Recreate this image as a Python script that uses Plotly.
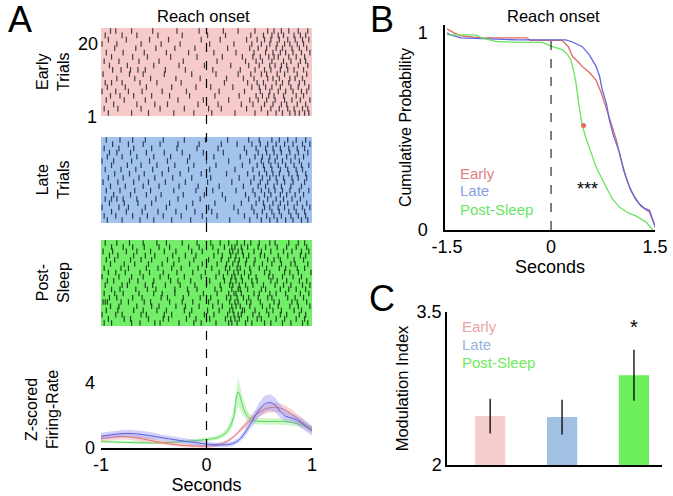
import numpy as np
import plotly.graph_objects as go

W, H = 673, 496

# ---------------- DATA ----------------
# Panel A raster: spike times (s) per trial, trial 1 (bottom) .. trial 20 (top)
early_spikes = [
    [-0.93,-0.71,-0.55,-0.31,-0.12,0.05,0.27,0.46,0.58,0.66,0.72,0.79,0.84,0.88,0.93,0.97],
    [-0.97,-0.84,-0.62,-0.44,-0.21,0.02,0.14,0.38,0.52,0.61,0.69,0.77,0.83,0.91,0.96],
    [-0.88,-0.66,-0.49,-0.37,-0.08,0.11,0.33,0.44,0.55,0.63,0.71,0.76,0.86,0.94],
    [-0.95,-0.78,-0.58,-0.27,-0.03,0.21,0.41,0.49,0.57,0.65,0.74,0.81,0.89,0.98],
    [-0.91,-0.82,-0.69,-0.52,-0.35,-0.16,0.08,0.31,0.47,0.53,0.59,0.64,0.73,0.85,0.92],
    [-0.99,-0.86,-0.74,-0.61,-0.42,-0.19,0.12,0.36,0.51,0.60,0.68,0.75,0.82,0.90,0.95],
    [-0.94,-0.77,-0.57,-0.33,-0.10,0.04,0.25,0.43,0.50,0.56,0.62,0.70,0.80,0.87,0.97],
    [-0.96,-0.90,-0.80,-0.63,-0.47,-0.24,0.17,0.39,0.48,0.54,0.66,0.72,0.78,0.88,0.93],
    [-0.85,-0.68,-0.53,-0.29,-0.06,0.19,0.35,0.45,0.58,0.63,0.69,0.79,0.84,0.91],
    [-0.98,-0.73,-0.60,-0.40,-0.14,0.09,0.30,0.42,0.52,0.57,0.67,0.74,0.86,0.95],
    [-0.89,-0.81,-0.72,-0.65,-0.58,-0.39,-0.20,0.06,0.32,0.46,0.55,0.61,0.70,0.77,0.83,0.92],
    [-0.92,-0.75,-0.50,-0.26,-0.02,0.23,0.40,0.50,0.60,0.65,0.71,0.76,0.87,0.96],
    [-0.97,-0.83,-0.64,-0.45,-0.22,0.10,0.37,0.47,0.53,0.62,0.73,0.80,0.89,0.94],
    [-0.90,-0.70,-0.56,-0.34,-0.09,0.15,0.34,0.44,0.51,0.59,0.64,0.68,0.78,0.85,0.93],
    [-0.95,-0.79,-0.59,-0.38,-0.17,0.07,0.28,0.45,0.56,0.63,0.70,0.75,0.82,0.90,0.98],
    [-0.87,-0.67,-0.48,-0.30,-0.11,0.20,0.41,0.49,0.57,0.66,0.72,0.81,0.88,0.95],
    [-0.99,-0.85,-0.62,-0.43,-0.25,0.03,0.26,0.43,0.52,0.60,0.67,0.74,0.79,0.86,0.92],
    [-0.93,-0.76,-0.54,-0.36,-0.05,0.13,0.38,0.48,0.55,0.61,0.69,0.77,0.84,0.91,0.97],
    [-0.96,-0.80,-0.66,-0.46,-0.23,0.01,0.18,0.42,0.54,0.62,0.68,0.73,0.83,0.89,0.94],
    [-0.91,-0.86,-0.71,-0.51,-0.28,-0.07,0.16,0.30,0.46,0.58,0.64,0.71,0.78,0.87,0.96],
]
late_spikes = [
    [-0.94,-0.80,-0.63,-0.50,-0.33,-0.15,0.00,0.22,0.41,0.52,0.60,0.67,0.75,0.82,0.90,0.96],
    [-0.97,-0.86,-0.70,-0.56,-0.41,-0.24,-0.04,0.10,0.36,0.48,0.57,0.64,0.71,0.80,0.87,0.94],
    [-0.90,-0.76,-0.61,-0.46,-0.29,-0.11,0.05,0.30,0.45,0.53,0.62,0.69,0.78,0.85,0.93],
    [-0.99,-0.83,-0.74,-0.58,-0.38,-0.19,0.02,0.26,0.43,0.55,0.60,0.68,0.74,0.83,0.91,0.98],
    [-0.92,-0.78,-0.65,-0.52,-0.35,-0.13,0.08,0.33,0.47,0.54,0.63,0.70,0.77,0.86,0.95],
    [-0.96,-0.90,-0.85,-0.79,-0.66,-0.48,-0.27,-0.06,0.18,0.40,0.50,0.58,0.66,0.73,0.81,0.89],
    [-0.88,-0.72,-0.57,-0.43,-0.22,-0.02,0.15,0.37,0.46,0.55,0.61,0.70,0.76,0.84,0.92],
    [-0.95,-0.82,-0.68,-0.53,-0.31,-0.10,0.06,0.28,0.44,0.52,0.59,0.65,0.72,0.79,0.88,0.97],
    [-0.91,-0.77,-0.60,-0.45,-0.26,-0.08,0.12,0.35,0.49,0.56,0.64,0.71,0.80,0.90],
    [-0.98,-0.84,-0.69,-0.55,-0.39,-0.20,0.01,0.24,0.42,0.51,0.58,0.67,0.74,0.82,0.93],
    [-0.93,-0.79,-0.64,-0.49,-0.32,-0.14,0.04,0.31,0.45,0.53,0.60,0.66,0.73,0.81,0.87,0.95],
    [-0.87,-0.73,-0.59,-0.42,-0.25,-0.05,0.19,0.39,0.50,0.57,0.63,0.69,0.78,0.86,0.94],
    [-0.96,-0.81,-0.67,-0.51,-0.36,-0.17,0.03,0.27,0.44,0.55,0.62,0.70,0.77,0.85,0.91],
    [-0.90,-0.75,-0.62,-0.47,-0.30,-0.12,0.09,0.34,0.48,0.54,0.61,0.68,0.75,0.83,0.90,0.97],
    [-0.99,-0.88,-0.71,-0.54,-0.37,-0.18,0.00,0.21,0.41,0.52,0.59,0.65,0.72,0.80,0.88],
    [-0.94,-0.80,-0.66,-0.50,-0.34,-0.16,0.07,0.32,0.46,0.53,0.60,0.67,0.76,0.84,0.92],
    [-0.92,-0.85,-0.72,-0.57,-0.40,-0.23,-0.03,0.16,0.38,0.49,0.57,0.64,0.71,0.79,0.87,0.96],
    [-0.97,-0.83,-0.69,-0.52,-0.28,-0.09,0.11,0.36,0.47,0.56,0.63,0.70,0.78,0.86,0.93],
    [-0.89,-0.74,-0.60,-0.44,-0.27,-0.07,0.14,0.29,0.43,0.51,0.58,0.66,0.74,0.82,0.91,0.98],
    [-0.95,-0.82,-0.70,-0.58,-0.41,-0.21,-0.01,0.20,0.40,0.50,0.62,0.69,0.77,0.85,0.94],
]
post_spikes = [
    [-0.97,-0.90,-0.71,-0.63,-0.49,-0.44,-0.26,-0.12,-0.05,0.09,0.21,0.24,0.29,0.37,0.43,0.55,0.61,0.72,0.80,0.91,0.96],
    [-0.93,-0.78,-0.72,-0.55,-0.41,-0.36,-0.19,-0.10,0.03,0.18,0.23,0.27,0.31,0.39,0.48,0.52,0.66,0.74,0.85,0.93],
    [-0.99,-0.86,-0.80,-0.62,-0.57,-0.40,-0.33,-0.16,-0.02,0.07,0.20,0.26,0.30,0.33,0.44,0.50,0.59,0.70,0.76,0.88,0.94],
    [-0.95,-0.84,-0.69,-0.60,-0.47,-0.38,-0.21,-0.14,0.01,0.12,0.22,0.25,0.34,0.36,0.46,0.57,0.63,0.71,0.83,0.90],
    [-0.91,-0.83,-0.66,-0.52,-0.45,-0.29,-0.20,-0.07,0.06,0.15,0.24,0.28,0.32,0.41,0.53,0.60,0.68,0.79,0.87,0.98],
    [-0.98,-0.96,-0.94,-0.81,-0.74,-0.59,-0.53,-0.35,-0.23,-0.13,0.02,0.11,0.22,0.27,0.30,0.38,0.42,0.51,0.64,0.69,0.81,0.86,0.95],
    [-0.92,-0.85,-0.70,-0.61,-0.43,-0.37,-0.22,-0.06,0.04,0.19,0.23,0.29,0.35,0.40,0.49,0.58,0.62,0.77,0.84,0.92],
    [-0.97,-0.87,-0.79,-0.64,-0.50,-0.42,-0.30,-0.17,-0.03,0.10,0.21,0.26,0.28,0.33,0.45,0.50,0.60,0.66,0.75,0.89,0.97],
    [-0.90,-0.82,-0.67,-0.56,-0.48,-0.30,-0.18,-0.09,0.08,0.14,0.24,0.30,0.32,0.39,0.52,0.56,0.70,0.78,0.85,0.94],
    [-0.96,-0.80,-0.75,-0.58,-0.51,-0.39,-0.25,-0.11,0.00,0.13,0.22,0.25,0.31,0.37,0.44,0.54,0.65,0.73,0.80,0.91,0.98],
    [-0.94,-0.88,-0.73,-0.65,-0.50,-0.34,-0.27,-0.15,0.03,0.17,0.23,0.28,0.34,0.43,0.48,0.61,0.67,0.76,0.88,0.95],
    [-0.99,-0.83,-0.71,-0.60,-0.44,-0.36,-0.21,-0.05,0.09,0.16,0.24,0.27,0.33,0.40,0.47,0.59,0.63,0.72,0.82,0.90],
    [-0.93,-0.86,-0.77,-0.63,-0.54,-0.41,-0.28,-0.13,-0.01,0.12,0.20,0.26,0.30,0.36,0.42,0.55,0.60,0.74,0.79,0.87,0.99],
    [-0.97,-0.81,-0.74,-0.57,-0.46,-0.33,-0.24,-0.08,0.05,0.18,0.22,0.29,0.32,0.41,0.50,0.57,0.69,0.75,0.86,0.93],
    [-0.91,-0.78,-0.68,-0.55,-0.42,-0.31,-0.16,-0.04,0.10,0.19,0.25,0.30,0.37,0.45,0.53,0.62,0.71,0.80,0.84,0.96],
    [-0.95,-0.87,-0.72,-0.62,-0.52,-0.37,-0.26,-0.12,0.02,0.14,0.21,0.27,0.31,0.38,0.46,0.58,0.64,0.70,0.83,0.92],
    [-0.92,-0.84,-0.69,-0.58,-0.49,-0.32,-0.20,-0.10,0.07,0.15,0.23,0.28,0.35,0.40,0.51,0.55,0.68,0.77,0.89,0.94],
    [-0.98,-0.89,-0.76,-0.66,-0.53,-0.40,-0.29,-0.14,-0.04,0.11,0.22,0.25,0.30,0.34,0.45,0.52,0.61,0.73,0.81,0.90,0.97],
    [-0.90,-0.79,-0.70,-0.59,-0.45,-0.35,-0.17,-0.07,0.06,0.17,0.24,0.27,0.33,0.39,0.49,0.56,0.67,0.76,0.85,0.95],
    [-0.96,-0.85,-0.73,-0.60,-0.47,-0.38,-0.23,-0.09,0.04,0.13,0.21,0.29,0.36,0.42,0.50,0.60,0.65,0.78,0.87,0.93],
]

# Panel A PSTH: z-scored firing rate, time grid -1..1 s in 0.05 s steps
psth_t = np.linspace(-1, 1, 41)
early_mean = [0.58,0.62,0.66,0.69,0.70,0.69,0.66,0.61,0.55,0.49,0.43,0.37,0.31,0.26,0.22,0.18,0.15,0.13,0.12,0.11,
              0.11,0.13,0.18,0.27,0.42,0.65,0.95,1.30,1.65,1.95,2.20,2.38,2.48,2.50,2.45,2.32,2.12,1.88,1.62,1.36,1.12]
early_sem = [0.18,0.18,0.18,0.18,0.18,0.18,0.18,0.18,0.18,0.18,0.18,0.12,0.12,0.12,0.12,0.12,0.12,0.12,0.12,0.12,
             0.12,0.12,0.12,0.12,0.12,0.12,0.12,0.18,0.22,0.25,0.28,0.30,0.30,0.30,0.30,0.30,0.30,0.28,0.26,0.24,0.22]
late_mean = [0.72,0.77,0.82,0.86,0.89,0.90,0.89,0.86,0.82,0.77,0.72,0.66,0.61,0.56,0.51,0.46,0.41,0.37,0.33,0.28,
             0.24,0.21,0.19,0.19,0.21,0.28,0.45,0.80,1.30,1.85,2.35,2.70,2.80,2.65,2.25,1.95,1.85,1.75,1.55,1.30,1.05]
late_sem = [0.22,0.22,0.22,0.22,0.22,0.22,0.22,0.22,0.22,0.22,0.22,0.18,0.18,0.18,0.18,0.18,0.18,0.18,0.18,0.18,
            0.18,0.15,0.15,0.15,0.15,0.15,0.15,0.20,0.30,0.40,0.45,0.50,0.50,0.45,0.40,0.35,0.30,0.30,0.30,0.30,0.30]
post_mean = [0.40,0.39,0.37,0.36,0.35,0.34,0.33,0.32,0.32,0.31,0.31,0.32,0.33,0.34,0.36,0.38,0.40,0.43,0.46,0.49,
             0.52,0.56,0.63,0.78,1.05,1.75,3.45,2.45,1.85,1.68,1.64,1.63,1.63,1.64,1.64,1.62,1.58,1.52,1.43,1.32,1.22]
post_sem = [0.08,0.08,0.08,0.08,0.08,0.08,0.08,0.08,0.08,0.08,0.08,0.08,0.08,0.08,0.08,0.09,0.09,0.10,0.10,0.11,
            0.12,0.13,0.14,0.16,0.22,0.38,0.85,0.50,0.30,0.22,0.20,0.20,0.20,0.20,0.20,0.20,0.19,0.18,0.17,0.16,0.15]

# Panel B: cumulative probability curves
early_cdf_x = [-1.5,-1.4,-1.3,-1.0,-0.6,-0.35,-0.3,0.0,0.16,0.25,0.31,0.4,0.45,0.55,0.65,0.72,0.79,0.86,0.94,1.0,1.08,1.15,1.23,1.3,1.42,1.47,1.52]
early_cdf_y = [1.02,1.0,0.985,0.975,0.975,0.975,0.962,0.962,0.962,0.93,0.88,0.85,0.83,0.80,0.76,0.70,0.63,0.55,0.46,0.37,0.27,0.20,0.15,0.12,0.09,0.04,0.0]
late_cdf_x = [-1.5,-1.45,-1.3,-1.0,-0.5,0.0,0.21,0.3,0.45,0.55,0.65,0.7,0.74,0.8,0.84,0.9,0.99,1.05,1.13,1.2,1.28,1.35,1.42,1.47,1.52]
late_cdf_y = [1.0,0.99,0.975,0.97,0.965,0.965,0.965,0.955,0.93,0.89,0.83,0.78,0.71,0.64,0.56,0.48,0.39,0.30,0.22,0.17,0.13,0.11,0.10,0.05,0.0]
post_cdf_x = [-1.5,-1.3,-1.09,-1.0,-0.8,-0.5,-0.13,0.02,0.16,0.24,0.29,0.33,0.36,0.4,0.45,0.5,0.55,0.65,0.72,0.79,0.88,0.99,1.1,1.23,1.37,1.47]
post_cdf_y = [0.99,0.99,0.99,0.975,0.957,0.952,0.952,0.93,0.915,0.89,0.86,0.80,0.745,0.64,0.53,0.47,0.42,0.32,0.27,0.22,0.16,0.115,0.09,0.07,0.04,0.0]
median_dot_x = [0.47]
median_dot_y = [0.53]

# Panel C: modulation index
groups = ["Early", "Late", "Post-Sleep"]
mod_index = [2.48, 2.47, 2.88]
mod_err = [0.17, 0.17, 0.25]

for arr in (early_mean, early_sem, late_mean, late_sem, post_mean, post_sem):
    assert len(arr) == 41, len(arr)

# ---------------- STYLE ----------------
FONT = "Liberation Sans, Arial, sans-serif"
C_PINK_BG = "rgb(246,202,200)"
C_BLUE_BG = "rgb(162,196,236)"
C_GREEN_BG = "rgb(114,238,104)"


def xd(a, b):
    return [a / W, b / W]


def yd(top, bottom):
    return [1 - bottom / H, 1 - top / H]


fig = go.Figure()


def raster(spikes, xa, ya, color):
    xs, ys = [], []
    for i, row in enumerate(spikes):
        xs.extend(row)
        ys.extend([i + 1] * len(row))
    fig.add_trace(go.Scatter(
        x=xs, y=ys, mode="markers", xaxis=xa, yaxis=ya, showlegend=False,
        marker=dict(symbol="line-ns", size=4, line=dict(width=1.2, color=color)),
        hoverinfo="skip"))


raster(early_spikes, "x", "y", "rgba(40,35,50,0.85)")
raster(late_spikes, "x2", "y2", "rgba(25,35,70,0.85)")
raster(post_spikes, "x3", "y3", "rgba(15,45,15,0.85)")


def band(mean, sem, fillc, linec):
    m = np.array(mean)
    s = np.array(sem)
    fig.add_trace(go.Scatter(
        x=list(psth_t) + list(psth_t[::-1]), y=list(m + s) + list((m - s)[::-1]),
        fill="toself", fillcolor=fillc, line=dict(width=0), mode="lines",
        xaxis="x4", yaxis="y4", showlegend=False, hoverinfo="skip"))
    fig.add_trace(go.Scatter(
        x=psth_t, y=m, mode="lines", line=dict(color=linec, width=1, shape="spline"),
        xaxis="x4", yaxis="y4", showlegend=False))


band(post_mean, post_sem, "rgba(130,235,120,0.40)", "rgb(90,215,90)")
band(early_mean, early_sem, "rgba(240,150,150,0.40)", "rgb(230,110,110)")
band(late_mean, late_sem, "rgba(140,140,240,0.40)", "rgb(90,90,230)")

# Panel B
for xs, ys, col in [(early_cdf_x, early_cdf_y, "rgb(225,105,95)"),
                    (late_cdf_x, late_cdf_y, "rgb(95,105,225)"),
                    (post_cdf_x, post_cdf_y, "rgb(105,228,95)")]:
    fig.add_trace(go.Scatter(x=xs, y=ys, mode="lines", line=dict(color=col, width=1.3),
                             xaxis="x5", yaxis="y5", showlegend=False))
fig.add_trace(go.Scatter(x=median_dot_x, y=median_dot_y, mode="markers",
                         marker=dict(color="rgb(230,110,90)", size=5),
                         xaxis="x5", yaxis="y5", showlegend=False))

# Panel C
fig.add_trace(go.Bar(
    x=groups, y=[v - 2 for v in mod_index], base=2, width=0.42,
    marker=dict(color=["rgb(246,205,205)", "rgb(162,192,226)", "rgb(110,240,92)"], line=dict(width=0)),
    error_y=dict(type="data", array=mod_err, color="black", thickness=1.3, width=0),
    xaxis="x6", yaxis="y6", showlegend=False))

hidden = dict(visible=False, automargin=False)
tickfont = dict(family=FONT, size=18, color="black")

layout = dict(
    width=W, height=H, margin=dict(l=0, r=0, t=0, b=0, autoexpand=False),
    paper_bgcolor="white", plot_bgcolor="rgba(0,0,0,0)",
    font=dict(family=FONT, color="black"),
    showlegend=False,
    xaxis=dict(domain=xd(101, 312), range=[-1, 1], **hidden),
    yaxis=dict(domain=yd(28, 116), range=[0.3, 20.7], **hidden),
    xaxis2=dict(domain=xd(101, 312), range=[-1, 1], anchor="y2", **hidden),
    yaxis2=dict(domain=yd(137, 223), range=[0.3, 20.7], anchor="x2", **hidden),
    xaxis3=dict(domain=xd(101, 312), range=[-1, 1], anchor="y3", **hidden),
    yaxis3=dict(domain=yd(240, 326), range=[0.3, 20.7], anchor="x3", **hidden),
    xaxis4=dict(domain=xd(101, 312), range=[-1, 1], anchor="y4", automargin=False,
                showline=True, linecolor="black", linewidth=1.5, showgrid=False, zeroline=False,
                tickvals=[-1, 0, 1], ticktext=["-1", "0", "1"], ticks="", tickfont=tickfont,
                title=dict(text="Seconds", font=dict(family=FONT, size=18), standoff=0)),
    yaxis4=dict(domain=yd(368, 448), range=[0, 4.92], anchor="x4", automargin=False,
                showline=False, showgrid=False, zeroline=False, ticklabelstandoff=5,
                tickvals=[0, 4], ticks="", tickfont=tickfont),
    xaxis5=dict(domain=xd(445, 655), range=[-1.53, 1.5], anchor="y5", automargin=False,
                showline=True, linecolor="black", linewidth=1.5, showgrid=False, zeroline=False,
                tickvals=[-1.5, 0, 1.5], ticktext=["-1.5", "0", "1.5"], ticks="", tickfont=tickfont,
                title=dict(text="Seconds", font=dict(family=FONT, size=18), standoff=0)),
    yaxis5=dict(domain=yd(25, 230), range=[0, 1.04], anchor="x5", automargin=False,
                showline=True, linecolor="black", linewidth=1.5, showgrid=False, zeroline=False,
                tickvals=[0, 1], ticks="", tickfont=tickfont, ticklabelstandoff=12,
                title=dict(text="Cumulative Probability", font=dict(family=FONT, size=16), standoff=2)),
    xaxis6=dict(domain=xd(447, 662), range=[-0.6, 2.39], anchor="y6", type="category", automargin=False,
                showline=True, linecolor="black", linewidth=1.5, showgrid=False, zeroline=False,
                showticklabels=False, ticks=""),
    yaxis6=dict(domain=yd(312, 465), range=[2, 3.5], anchor="x6", automargin=False,
                showline=True, linecolor="black", linewidth=1.5, showgrid=False, zeroline=False,
                tickvals=[2, 3.5], ticktext=["2", "3.5"], ticks="", tickfont=tickfont,
                title=dict(text="Modulation Index", font=dict(family=FONT, size=16.5), standoff=4)),
)

shapes = []
for xa, ya, col in [("x", "y", C_PINK_BG), ("x2", "y2", C_BLUE_BG), ("x3", "y3", C_GREEN_BG)]:
    shapes.append(dict(type="rect", xref=f"{xa} domain", yref=f"{ya} domain", x0=0, x1=1, y0=0, y1=1,
                       fillcolor=col, line=dict(width=0), layer="below"))
# reach onset dashed line through panel A
shapes.append(dict(type="line", xref="x4", yref="paper", x0=0, x1=0, y0=1 - 448 / H, y1=1 - 28 / H,
                   line=dict(color="black", width=1.2, dash="dash")))
# reach onset dashed line panel B
shapes.append(dict(type="line", xref="x5", yref="y5", x0=0, x1=0, y0=0, y1=0.99,
                   line=dict(color="black", width=1, dash="dash")))
layout["shapes"] = shapes


def txt(text, x, y, size, color="black", xanchor="center", angle=0, **kw):
    return dict(text=text, x=x / W, y=1 - y / H, xref="paper", yref="paper", showarrow=False,
                xanchor=xanchor, yanchor="middle", textangle=angle,
                font=dict(family=FONT, size=size, color=color), **kw)


ann = [
    txt("A", 20, 20, 36),
    txt("B", 382, 20, 36),
    txt("C", 382, 298, 36),
    txt("Reach onset", 204, 16, 16.5),
    txt("Reach onset", 553, 16, 16.5),
    txt("20", 88, 44, 18),
    txt("1", 92, 117, 18),
    txt("Early<br>Trials", 53, 72, 16, angle=-90),
    txt("Late<br>Trials", 53, 180, 16, angle=-90),
    txt("Post-<br>Sleep", 53, 283, 16, angle=-90),
    txt("Z-scored<br>Firing-Rate", 42, 410, 16, angle=-90),
    txt("Early", 458, 173, 15, "rgb(222,130,125)", xanchor="left"),
    txt("Late", 458, 191, 15, "rgb(135,160,228)", xanchor="left"),
    txt("Post-Sleep", 458, 210, 15, "rgb(105,230,100)", xanchor="left"),
    txt("Early", 460, 326, 15, "rgb(232,165,165)", xanchor="left"),
    txt("Late", 460, 344, 15, "rgb(150,178,222)", xanchor="left"),
    txt("Post-Sleep", 460, 362, 15, "rgb(110,235,90)", xanchor="left"),
    dict(text="***", x=0.52, y=0.21, xref="x5", yref="y5", showarrow=False,
         font=dict(family=FONT, size=18, color="black")),
    dict(text="*", x="Post-Sleep", y=3.35, xref="x6", yref="y6", showarrow=False,
         font=dict(family=FONT, size=20, color="black")),
]
layout["annotations"] = ann

fig.update_layout(**layout)
fig.write_html("out.html", config={"displayModeBar": False},
               post_script="document.body.style.margin='0px';document.body.style.padding='0px';")
